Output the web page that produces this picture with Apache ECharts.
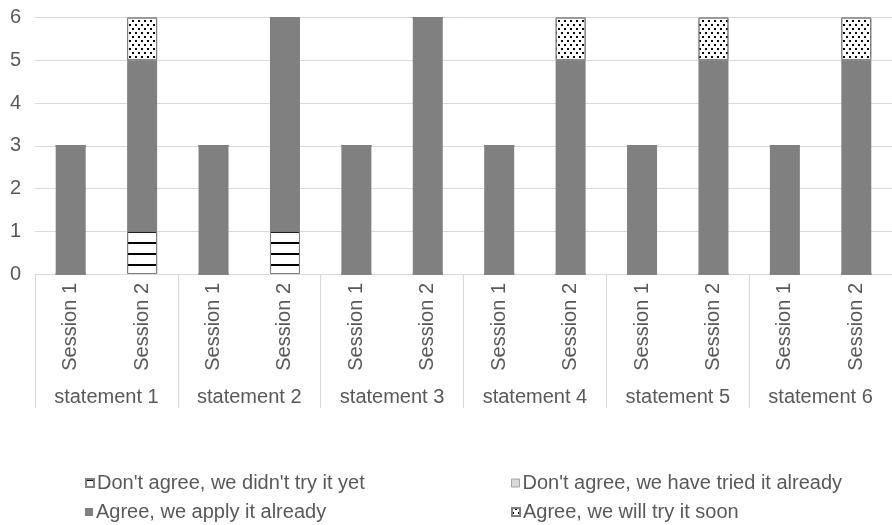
<!DOCTYPE html>
<html>
<head>
<meta charset="utf-8">
<script src="https://cdn.jsdelivr.net/npm/echarts@6/dist/echarts.min.js"></script>
<style>
  html, body { margin: 0; padding: 0; background: #fff; }
  #chart { width: 892px; height: 525px; }
</style>
</head>
<body>
<div id="chart"></div>
<script>
const sessions = ['Session 1','Session 2','Session 1','Session 2','Session 1','Session 2',
  'Session 1','Session 2','Session 1','Session 2','Session 1','Session 2']
const statements = ['statement 1','statement 2','statement 3','statement 4','statement 5','statement 6']
const yTicks = [0, 6, 1]

const didntTry = [0, 1, 0, 1, 0, 0, 0, 0, 0, 0, 0, 0]
const haveTried = [0, 0, 0, 0, 0, 0, 0, 0, 0, 0, 0, 0]
const applyAlready = [3, 4, 3, 5, 3, 6, 3, 5, 3, 5, 3, 5]
const tryingSoon = [0, 1, 0, 0, 0, 0, 0, 1, 0, 1, 0, 1]

const names = ["Don't agree, we didn't try it yet", "Don't agree, we have tried it already",
  'Agree, we apply it already', 'Agree, we will try it soon']

const textColor = '#595959'
const gridColor = '#d9d9d9'
const font = 'Liberation Sans'
const fs = 20

const chart = echarts.init(document.getElementById('chart'))

const stripes = {
  color: '#000', symbol: 'rect', symbolSize: 1,
  dashArrayX: [10, 0], dashArrayY: [2, 9], rotation: 0
}
const dots = {
  color: '#000', symbol: 'rect', symbolSize: 1,
  dashArrayX: [[2, 4], [0, 3, 2, 1]], dashArrayY: [2, 1.5], rotation: 0
}

// one legend per entry so the 2x2 layout is exact
const legendAt = (item, left, top) => ({
  data: [item], left: left, top: top,
  icon: 'rect', itemWidth: 8, itemHeight: 8,
  textStyle: { color: textColor, fontSize: fs, fontFamily: font, lineHeight: 20, padding: [0, 0, 0, -2] }
})

chart.setOption({
  animation: false,
  textStyle: { fontFamily: font },
  grid: { left: 35, right: -7, top: 17.5, bottom: 251 },
  xAxis: [
    {
      type: 'category', data: sessions, position: 'bottom',
      axisLine: { lineStyle: { color: gridColor, width: 1 } },
      axisTick: { show: false },
      axisLabel: { rotate: 90, margin: 9, color: textColor, fontSize: fs, fontFamily: font }
    },
    {
      type: 'category', data: statements, position: 'bottom',
      axisLine: { show: false },
      axisTick: { show: true, length: 134, lineStyle: { color: gridColor, width: 1 } },
      axisLabel: { margin: 113, color: textColor, fontSize: fs, fontFamily: font }
    }
  ],
  yAxis: {
    type: 'value', min: yTicks[0], max: yTicks[1], interval: yTicks[2],
    axisLine: { show: false }, axisTick: { show: false },
    splitLine: { lineStyle: { color: gridColor, width: 1 } },
    axisLabel: { margin: 14, color: textColor, fontSize: fs, fontFamily: font }
  },
  legend: [
    legendAt(names[0], 80, 468),
    legendAt(names[2], 80, 497),
    legendAt({ name: names[1], itemStyle: { borderColor: '#a6a6a6', borderWidth: 1 } }, 506, 468),
    legendAt(names[3], 506, 497)
  ],
  series: [
    {
      name: names[0], type: 'bar', stack: 'a', data: didntTry, barWidth: 30,
      itemStyle: { color: '#fff', borderColor: '#808080', borderWidth: 1, decal: stripes }
    },
    {
      name: names[1], type: 'bar', stack: 'a', data: haveTried, barWidth: 30,
      itemStyle: { color: '#d9d9d9', borderColor: '#a6a6a6', borderWidth: 0 }
    },
    {
      name: names[2], type: 'bar', stack: 'a', data: applyAlready, barWidth: 30,
      itemStyle: { color: '#808080' }
    },
    {
      name: names[3], type: 'bar', stack: 'a', data: tryingSoon, barWidth: 30,
      itemStyle: { color: '#fff', borderColor: '#808080', borderWidth: 1, decal: dots }
    }
  ]
})
</script>
</body>
</html>
